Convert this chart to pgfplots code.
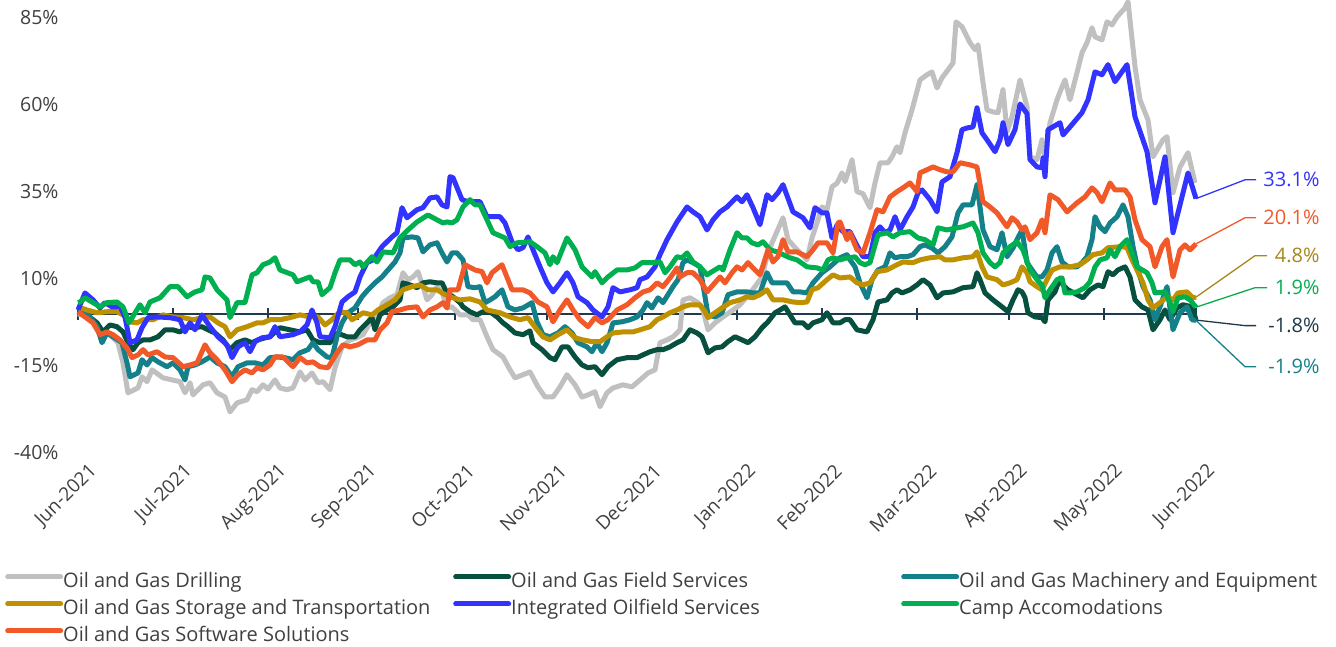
\documentclass[border=0pt]{standalone}
\usepackage{fontspec}
\setmainfont{Open Sans}
\usepackage{pgfplots}
\pgfplotsset{compat=1.18}
\definecolor{cDrill}{HTML}{C0C0C0}
\definecolor{cField}{HTML}{07503F}
\definecolor{cMach}{HTML}{13808A}
\definecolor{cStor}{HTML}{BF9000}
\definecolor{cInt}{HTML}{3333FF}
\definecolor{cCamp}{HTML}{00B050}
\definecolor{cSoft}{HTML}{F15A28}
\definecolor{cAxis}{HTML}{1F3A4D}
\definecolor{cText}{HTML}{404040}
\definecolor{cStorLab}{HTML}{A8861C}
\begin{document}
\begin{tikzpicture}
\useasboundingbox (0pt,0pt) rectangle (1336pt,-646pt);
% zero line with month ticks
\begin{axis}[at={(78pt,-453pt)}, anchor=south west, scale only axis,
  width=1118pt, height=435pt, xmin=0, xmax=1118, ymin=-40, ymax=85,
  axis x line=middle, axis y line=none,
  x axis line style={-, draw=cAxis, line width=1.4pt},
  xtick={0,95,190,280,377,469,564,659,744,839,931,1026,1118},
  xticklabels={}, major tick length=12pt,
  tick style={draw=cAxis, line width=1.2pt}]
\addplot[draw=none] coordinates {(0,0)};
\end{axis}
\begin{axis}[at={(78pt,-453pt)}, anchor=south west, scale only axis,
  width=1118pt, height=435pt, xmin=0, xmax=1118, ymin=-40, ymax=85,
  clip=false, axis line style={draw=none}, tick style={draw=none},
  xtick={0,95,190,280,377,469,564,659,744,839,931,1026,1118},
  xticklabels={Jun-2021,Jul-2021,Aug-2021,Sep-2021,Oct-2021,Nov-2021,Dec-2021,Jan-2022,Feb-2022,Mar-2022,Apr-2022,May-2022,Jun-2022},
  xticklabel style={rotate=45, anchor=east, font=\fontsize{19}{22}\selectfont, text=cText, yshift=-22pt, xshift=4pt},
  ytick={-40,-15,10,35,60,85},
  yticklabels={-40\%,-15\%,10\%,35\%,60\%,85\%},
  yticklabel style={font=\fontsize{19.5}{22}\selectfont, text=cText, xshift=-16pt},
  legend columns=3, legend cell align=left,
  legend style={at={(-0.0653,-0.2770)}, anchor=north west, draw=none, fill=none,
    inner sep=0pt, font=\fontsize{20}{24}\selectfont, text=cText, row sep=8.5pt,
    nodes={inner xsep=0pt, inner ysep=0pt, text height=14pt, text depth=4.5pt}},
  legend image code/.code={\draw[#1, line cap=round] (0pt,6pt) -- (53pt,6pt);},
  every axis plot/.append style={line width=5pt, line join=round}]

\addplot[cDrill] coordinates {(0,0)(12,-0.9)(24,-6.6)(30,-5.5)(40,-8.3)(45,-14.1)(50,-22.7)(60,-21.3)(64,-18.1)(69,-19.5)(74,-16.1)(85,-18.4)(102,-19.5)(107,-22.7)(112,-19.8)(115,-23.3)(125,-20.4)(132,-19.8)(139,-22.7)(147,-23.9)(152,-28.2)(159,-25.6)(169,-24.7)(174,-21.8)(179,-22.4)(185,-20.4)(190,-21.6)(197,-19.0)(202,-21.3)(209,-21.8)(215,-21.3)(222,-16.7)(227,-19.0)(234,-17.0)(240,-19.8)(245,-19.5)(252,-21.8)(257,-15.5)(264,-9.5)(272,-7.5)(279,-6.9)(285,-6.0)(292,-2.6)(299,-0.9)(305,3.2)(312,4.6)(319,5.5)(325,11.8)(330,9.8)(335,10.6)(340,12.1)(345,7.8)(349,4.0)(354,5.5)(359,7.8)(364,6.3)(369,1.7)(374,2.0)(379,0.6)(382,-0.3)(390,-0.3)(395,-1.7)(402,-1.7)(409,-6.6)(415,-10.3)(425,-12.4)(432,-16.1)(437,-18.4)(445,-17.5)(452,-16.7)(460,-21.0)(467,-23.9)(475,-23.9)(482,-21.0)(489,-17.5)(497,-20.4)(504,-23.9)(510,-23.3)(517,-22.4)(522,-26.7)(529,-22.7)(535,-21.3)(545,-20.4)(554,-21.0)(562,-19.0)(570,-17.0)(577,-16.1)(582,-8.3)(589,-7.5)(595,-6.6)(602,-4.6)(605,4.0)(612,4.6)(620,3.2)(625,1.1)(630,-4.6)(637,-2.6)(645,-0.9)(655,1.1)(662,2.6)(669,4.9)(677,7.8)(684,10.6)(689,16.4)(694,20.4)(705,27.6)(710,21.3)(719,18.4)(729,15.5)(734,21.8)(739,26.1)(744,30.7)(749,29.9)(754,36.5)(759,37.5)(764,40.5)(767,38.0)(770,40.5)(774,44.3)(779,35.1)(785,34.5)(792,30.5)(797,37.6)(802,43.4)(810,43.4)(814,45.1)(819,48.0)(822,46.3)(827,52.0)(834,58.6)(842,67.2)(849,68.7)(854,69.5)(859,64.9)(864,67.8)(870,70.1)(875,72.1)(878,83.9)(884,82.5)(892,77.9)(897,75.9)(900,77.3)(905,66.4)(909,58.6)(915,58.0)(920,57.8)(925,64.4)(929,52.3)(934,56.6)(942,67.2)(949,59.5)(952,45.1)(959,44.3)(964,50.0)(967,44.3)(972,54.9)(979,61.5)(984,65.2)(987,67.2)(992,61.5)(999,69.3)(1004,75.0)(1009,77.9)(1014,82.2)(1017,79.6)(1024,78.7)(1029,83.9)(1034,83.0)(1039,85.3)(1047,87.9)(1050,89.7)(1057,71.0)(1062,61.5)(1070,55.7)(1075,45.1)(1085,50.0)(1089,50.9)(1095,34.8)(1102,42.2)(1110,46.3)(1117,37.6)};
\addlegendentry{\makebox[390pt][l]{Oil and Gas Drilling}}

\addplot[cField] coordinates {(0,1.1)(9,-0.3)(19,-2.6)(25,-5.2)(32,-3.2)(39,-3.7)(45,-5.2)(50,-8.3)(55,-10.3)(60,-8.3)(65,-7.5)(72,-7.5)(80,-6.6)(87,-4.6)(95,-4.6)(102,-5.2)(109,-3.7)(115,-4.0)(124,-3.7)(130,-4.6)(137,-5.5)(145,-7.5)(152,-10.3)(159,-8.3)(167,-7.5)(174,-8.3)(180,-7.5)(187,-6.9)(192,-6.6)(197,-5.2)(202,-4.0)(212,-4.6)(222,-5.2)(229,-4.6)(235,-7.5)(242,-8.3)(252,-8.3)(259,-5.5)(269,-6.6)(277,-6.6)(282,-4.6)(289,-2.6)(294,-1.1)(297,-4.6)(302,-0.3)(309,1.1)(315,2.0)(322,4.0)(325,8.9)(332,8.3)(339,7.5)(345,8.9)(352,9.2)(359,8.9)(364,8.9)(369,6.0)(375,4.9)(382,3.2)(385,2.0)(392,0.6)(399,-0.3)(405,0.6)(412,0.6)(419,-0.9)(425,-2.6)(430,-3.7)(437,-5.5)(445,-6.0)(452,-4.9)(455,-8.3)(464,-10.3)(472,-12.6)(477,-13.2)(484,-9.5)(490,-9.5)(497,-12.4)(504,-14.7)(510,-15.5)(517,-15.2)(524,-17.5)(530,-15.2)(539,-13.2)(549,-12.6)(559,-12.6)(565,-11.8)(572,-10.9)(579,-10.3)(585,-10.3)(592,-9.5)(599,-8.3)(605,-7.5)(612,-4.6)(619,-5.5)(624,-6.6)(630,-11.2)(637,-9.8)(644,-9.5)(650,-8.0)(657,-6.6)(664,-7.5)(670,-8.3)(677,-6.6)(684,-4.0)(690,-2.3)(697,0.3)(702,1.1)(707,2.0)(712,-0.3)(717,-2.6)(725,-2.6)(730,-4.0)(735,-2.6)(744,-1.7)(749,0.3)(755,-2.6)(762,-2.6)(767,-1.7)(772,-1.7)(779,-4.6)(789,-5.2)(795,-1.7)(800,3.4)(809,4.0)(814,6.0)(819,6.9)(824,6.0)(832,6.9)(839,8.3)(845,9.8)(852,8.3)(859,4.6)(865,6.0)(875,6.3)(885,7.5)(895,7.8)(899,11.8)(902,9.8)(907,6.0)(915,4.0)(924,2.0)(930,0.6)(935,4.0)(940,6.9)(944,6.3)(947,4.6)(950,0.3)(957,-0.9)(964,-1.1)(967,-2.3)(970,4.0)(977,6.3)(982,10.3)(985,8.3)(990,6.9)(999,5.5)(1005,4.6)(1012,6.9)(1020,8.3)(1025,7.8)(1030,12.1)(1035,11.2)(1040,12.6)(1047,13.5)(1052,10.6)(1057,4.0)(1064,2.0)(1070,1.1)(1075,-4.6)(1082,-1.7)(1087,1.1)(1092,-1.7)(1099,1.7)(1105,2.6)(1114,2.0)(1118,-1.8)};
\addlegendentry{\makebox[390pt][l]{Oil and Gas Field Services}}

\addplot[cMach] coordinates {(0,1.1)(9,0.3)(19,-3.7)(24,-8.3)(29,-5.5)(35,-6.6)(44,-8.3)(49,-14.1)(52,-18.1)(60,-17.0)(64,-13.2)(69,-14.7)(74,-12.6)(80,-13.8)(89,-15.2)(95,-14.1)(102,-16.1)(107,-19.0)(110,-15.2)(117,-14.7)(124,-13.8)(132,-12.4)(139,-14.1)(147,-15.2)(154,-18.1)(160,-15.2)(169,-14.1)(177,-14.1)(185,-14.7)(192,-12.6)(199,-12.4)(207,-12.6)(215,-13.2)(222,-11.2)(230,-10.3)(235,-8.3)(240,-10.3)(249,-12.4)(254,-12.6)(259,-6.6)(264,-2.6)(270,0.3)(277,1.7)(284,4.9)(290,6.9)(297,8.9)(304,10.6)(310,12.6)(317,14.9)(322,17.5)(325,21.8)(334,22.1)(340,21.8)(345,17.8)(352,19.8)(359,20.4)(364,17.5)(369,14.9)(374,17.5)(379,17.5)(385,15.5)(390,7.8)(397,7.5)(402,7.8)(407,3.2)(412,4.0)(417,4.9)(424,6.9)(430,2.0)(437,1.1)(445,1.7)(454,3.2)(459,-2.3)(465,-6.0)(472,-6.6)(480,-5.5)(487,-3.7)(494,-5.5)(500,-8.3)(509,-9.5)(514,-10.9)(519,-8.3)(524,-10.9)(529,-8.3)(535,-2.6)(544,-2.3)(552,-1.7)(559,-0.9)(565,1.1)(569,3.2)(574,1.7)(580,4.6)(585,3.2)(590,5.5)(595,7.8)(600,9.8)(605,14.7)(609,15.5)(615,14.7)(622,13.5)(627,4.9)(630,-0.3)(637,-0.9)(644,0.3)(650,5.5)(659,6.3)(669,6.3)(675,6.0)(682,6.0)(689,11.8)(694,8.9)(702,8.9)(709,8.9)(715,6.3)(722,6.3)(729,6.0)(735,8.9)(744,11.8)(752,13.5)(762,16.1)(769,17.0)(772,15.5)(777,13.5)(782,8.9)(789,4.6)(794,9.8)(800,12.6)(807,13.5)(812,17.5)(817,16.1)(822,16.4)(829,16.4)(835,17.0)(842,19.3)(847,19.8)(854,18.9)(860,17.5)(867,19.3)(874,22.1)(880,29.0)(885,31.3)(894,31.3)(899,37.1)(902,30.7)(905,24.1)(912,19.3)(919,18.4)(924,23.3)(929,16.4)(935,18.9)(939,21.3)(944,24.1)(949,14.7)(954,12.6)(959,10.6)(964,10.6)(969,12.6)(974,17.5)(979,19.3)(984,14.9)(990,13.5)(999,13.5)(1004,14.7)(1009,16.4)(1014,21.3)(1017,27.9)(1022,25.0)(1027,23.6)(1032,26.1)(1039,27.9)(1045,31.3)(1050,27.9)(1055,19.3)(1060,12.6)(1065,7.8)(1072,4.0)(1077,-1.7)(1082,2.0)(1089,7.8)(1095,-4.6)(1102,0.3)(1109,2.0)(1114,-1.7)(1118,-1.9)};
\addlegendentry{Oil and Gas Machinery and Equipment}

\addplot[cStor] coordinates {(0,2.0)(9,1.1)(19,0.3)(29,0.6)(39,0.6)(45,-0.3)(52,-2.3)(59,-2.6)(65,-1.7)(75,-1.7)(85,-0.3)(95,-0.9)(105,-1.1)(115,-1.7)(125,-1.1)(132,-0.9)(140,-2.6)(147,-3.7)(152,-6.6)(159,-4.6)(169,-3.7)(179,-2.6)(185,-2.6)(192,-1.7)(202,-1.7)(212,-1.1)(222,-0.3)(232,-0.9)(240,-0.9)(247,-3.2)(254,-1.7)(262,0.6)(269,0.3)(274,-1.7)(279,-0.9)(285,0.3)(294,-0.3)(300,1.1)(309,2.6)(317,4.0)(325,6.9)(334,7.8)(342,8.3)(350,6.9)(359,6.9)(367,5.5)(375,4.6)(382,4.0)(392,4.3)(402,3.4)(409,1.1)(422,0.3)(432,-0.9)(442,-1.7)(450,-1.1)(459,-4.6)(465,-6.6)(472,-7.5)(480,-6.0)(489,-4.6)(497,-6.9)(505,-7.5)(514,-8.0)(522,-8.0)(529,-6.6)(535,-5.5)(545,-5.2)(555,-5.2)(562,-4.6)(572,-3.7)(579,-1.7)(585,-0.9)(592,0.3)(599,1.1)(605,2.0)(612,2.6)(622,2.6)(627,0.6)(630,-1.1)(637,0.3)(644,1.7)(652,3.2)(662,4.0)(669,4.9)(675,4.6)(682,5.5)(689,6.9)(695,4.0)(705,4.0)(715,3.4)(722,3.2)(729,3.4)(734,6.9)(740,7.5)(749,9.8)(755,11.2)(762,10.3)(772,10.6)(779,8.9)(785,8.3)(792,8.9)(799,12.1)(809,12.6)(819,14.1)(825,14.9)(835,14.7)(842,15.5)(852,16.1)(862,16.4)(867,15.5)(875,15.5)(885,16.1)(895,16.4)(899,17.8)(904,13.5)(909,10.6)(919,9.8)(925,8.3)(932,8.9)(939,9.8)(944,13.5)(949,11.8)(952,9.2)(959,7.8)(964,6.9)(969,9.8)(974,12.6)(982,13.5)(992,13.5)(1002,14.1)(1009,15.5)(1015,17.0)(1024,17.5)(1030,19.0)(1044,19.3)(1049,19.0)(1054,15.5)(1059,12.6)(1065,8.9)(1070,4.0)(1075,1.7)(1082,3.2)(1089,4.9)(1095,4.0)(1100,6.0)(1109,6.3)(1115,4.6)(1118,4.8)};
\addlegendentry{\makebox[390pt][l]{Oil and Gas Storage and Transportation}}

\addplot[cInt] coordinates {(0,1.1)(7,6.0)(15,4.0)(22,1.7)(27,3.2)(34,2.0)(42,2.0)(47,-0.9)(52,-8.3)(59,-7.5)(64,-4.0)(70,-1.1)(79,-0.9)(92,-1.1)(102,-1.7)(107,-5.2)(112,-2.6)(117,-4.6)(124,-0.3)(132,-3.7)(140,-6.6)(149,-8.9)(154,-12.6)(160,-9.5)(167,-8.3)(172,-10.9)(177,-8.0)(184,-6.9)(192,-6.6)(197,-3.7)(202,-6.6)(215,-6.0)(222,-5.2)(229,-3.2)(234,1.1)(239,-2.6)(242,-6.6)(252,-6.9)(257,-3.7)(264,3.4)(270,4.9)(277,6.3)(282,10.6)(289,14.7)(295,15.5)(304,19.3)(314,22.1)(319,23.3)(324,30.5)(329,27.6)(339,29.9)(345,30.5)(352,33.3)(359,33.6)(364,31.3)(369,30.7)(372,39.4)(375,39.1)(384,32.8)(390,32.2)(402,32.2)(409,27.9)(422,27.9)(427,26.1)(434,20.7)(440,18.4)(445,19.0)(450,22.1)(455,18.4)(462,13.5)(469,8.9)(475,6.3)(482,8.9)(489,11.8)(495,8.9)(500,4.9)(509,3.2)(515,1.1)(524,-0.9)(530,2.0)(535,7.5)(542,6.3)(552,6.9)(559,7.5)(562,9.8)(569,10.6)(577,13.5)(582,17.0)(589,21.3)(599,26.4)(609,30.7)(615,29.3)(622,27.9)(629,24.1)(635,27.0)(642,29.3)(649,30.7)(659,33.6)(664,32.2)(669,34.2)(675,30.5)(682,25.6)(689,34.2)(694,32.8)(700,34.8)(705,37.1)(715,29.3)(725,27.6)(732,24.7)(737,30.5)(744,29.0)(749,29.0)(754,21.8)(759,25.5)(765,23.6)(772,23.6)(777,20.7)(785,16.4)(792,16.4)(797,23.3)(802,25.0)(807,23.3)(812,24.1)(817,27.9)(822,24.1)(829,27.9)(835,30.7)(840,34.8)(844,35.6)(852,32.8)(859,29.3)(864,37.9)(872,39.4)(879,46.3)(884,52.9)(889,53.4)(895,53.7)(899,59.2)(904,52.0)(909,50.0)(917,46.6)(922,50.0)(925,54.9)(930,48.6)(937,52.9)(942,60.3)(949,57.5)(952,44.3)(959,42.2)(964,42.0)(965,44.8)(967,39.4)(970,52.9)(982,54.9)(985,51.4)(992,53.7)(1004,57.8)(1010,61.5)(1017,69.5)(1024,68.7)(1030,71.6)(1037,66.7)(1049,71.6)(1057,56.6)(1069,46.6)(1077,31.9)(1087,45.1)(1095,23.3)(1104,33.6)(1110,40.5)(1118,33.1)};
\addlegendentry{\makebox[390pt][l]{Integrated Oilfield Services}}

\addplot[cCamp] coordinates {(0,3.2)(2,3.4)(7,4.6)(22,2.0)(29,3.2)(39,3.4)(45,2.0)(51,-2.6)(62,2.6)(67,0.3)(72,3.4)(82,4.6)(92,7.8)(100,7.8)(109,4.9)(117,6.3)(124,6.9)(127,10.6)(132,10.3)(139,6.9)(149,4.0)(152,-1.1)(159,3.2)(167,3.2)(174,11.2)(179,11.8)(185,14.1)(192,14.9)(197,16.1)(202,12.6)(215,11.2)(219,9.2)(232,10.6)(235,9.2)(240,9.2)(244,5.5)(252,7.5)(257,11.8)(262,15.5)(272,15.5)(277,14.1)(282,14.9)(285,13.5)(294,16.4)(299,14.9)(305,17.8)(315,17.5)(322,21.8)(330,24.1)(339,26.4)(350,28.4)(359,27.0)(365,26.1)(369,26.4)(374,26.1)(379,27.0)(385,30.7)(392,32.8)(397,31.3)(402,31.3)(409,27.0)(415,23.3)(427,21.8)(432,19.3)(439,20.4)(452,20.7)(459,19.3)(467,17.5)(472,14.1)(475,16.4)(479,14.7)(489,21.8)(497,18.4)(504,13.5)(514,10.6)(517,12.1)(524,8.9)(530,10.6)(539,12.6)(549,12.6)(557,13.2)(564,14.7)(572,14.7)(582,14.9)(587,11.8)(592,13.5)(599,16.4)(604,16.1)(609,17.5)(615,14.9)(622,13.5)(629,11.2)(634,12.1)(642,13.5)(645,12.6)(652,18.4)(659,23.3)(664,21.8)(669,21.8)(674,20.4)(680,19.8)(685,20.7)(692,18.4)(699,17.8)(705,17.0)(712,16.1)(719,15.5)(729,13.5)(739,13.2)(745,12.6)(750,15.5)(755,16.1)(762,15.5)(769,16.1)(772,16.1)(777,16.4)(782,14.7)(787,14.1)(792,14.7)(800,22.7)(809,23.3)(815,22.1)(822,23.3)(832,23.6)(840,21.8)(847,21.3)(855,19.8)(860,24.7)(869,24.1)(879,24.7)(885,25.0)(895,26.1)(900,23.3)(905,17.5)(912,14.7)(917,13.5)(922,14.7)(925,17.5)(932,19.3)(939,20.7)(945,18.4)(952,12.6)(959,9.8)(964,8.3)(967,4.6)(972,6.9)(979,9.8)(984,10.3)(987,6.0)(992,6.0)(999,6.3)(1007,7.5)(1012,9.2)(1017,13.5)(1022,15.5)(1029,16.1)(1032,18.4)(1037,16.4)(1042,19.3)(1049,21.3)(1054,17.5)(1059,13.5)(1069,11.8)(1074,8.9)(1077,6.0)(1087,6.3)(1092,3.2)(1095,0.6)(1100,4.6)(1107,4.9)(1112,4.0)(1118,1.9)};
\addlegendentry{Camp Accomodations}

\addplot[cSoft] coordinates {(0,0.6)(7,-0.9)(15,-2.6)(22,-6.0)(29,-5.2)(35,-6.0)(42,-7.5)(49,-9.8)(54,-12.6)(60,-11.8)(65,-10.3)(70,-11.8)(79,-10.9)(87,-12.4)(95,-12.6)(105,-15.2)(112,-14.7)(119,-14.1)(127,-8.9)(132,-11.2)(139,-13.2)(147,-16.1)(154,-19.5)(160,-17.5)(167,-16.1)(174,-17.0)(179,-15.5)(185,-16.1)(192,-14.7)(197,-12.4)(205,-12.4)(215,-15.2)(222,-12.6)(229,-14.1)(235,-13.8)(242,-15.2)(250,-15.5)(259,-11.2)(265,-8.9)(272,-9.5)(280,-8.9)(289,-7.5)(297,-7.5)(302,-4.6)(309,-2.6)(314,0.6)(322,1.1)(329,1.7)(339,2.0)(345,-0.9)(352,1.1)(359,2.0)(365,3.2)(369,1.7)(372,6.9)(380,6.9)(387,14.1)(397,12.6)(404,12.1)(409,8.9)(414,11.8)(424,14.1)(434,6.9)(445,6.9)(452,6.0)(460,3.4)(469,2.0)(475,-2.3)(482,1.1)(489,4.0)(495,1.1)(502,-1.7)(510,-3.7)(517,-1.1)(524,-2.6)(530,-1.7)(539,1.1)(549,2.6)(557,4.6)(565,6.3)(572,6.9)(579,8.9)(585,7.8)(592,10.3)(599,13.2)(602,10.6)(609,11.8)(615,11.8)(622,9.8)(629,6.3)(635,8.3)(642,10.6)(647,8.9)(654,11.8)(659,13.5)(664,12.6)(670,14.7)(675,13.2)(682,11.2)(690,18.4)(695,14.9)(700,16.4)(705,21.3)(710,17.8)(719,17.8)(729,16.4)(735,18.4)(740,20.4)(749,20.4)(755,17.5)(760,26.1)(762,26.4)(769,21.3)(772,23.3)(779,18.4)(785,17.5)(792,23.3)(799,29.9)(805,29.3)(812,33.6)(819,35.1)(825,36.2)(832,37.6)(839,35.1)(842,40.5)(849,41.4)(855,42.2)(862,41.4)(869,40.8)(875,40.8)(882,43.4)(892,42.8)(899,42.2)(905,32.2)(912,30.7)(919,29.0)(924,27.0)(929,25.0)(934,27.6)(939,26.4)(944,24.1)(947,25.0)(952,21.3)(959,23.3)(964,27.0)(967,23.3)(972,34.2)(980,32.8)(989,29.3)(999,31.9)(1007,33.6)(1014,36.2)(1019,34.8)(1024,32.2)(1032,37.6)(1037,35.6)(1047,35.6)(1052,33.6)(1057,27.0)(1064,21.3)(1072,19.3)(1077,13.5)(1084,19.3)(1089,21.3)(1095,10.6)(1102,18.4)(1107,19.8)(1112,18.4)(1118,20.1)};
\addlegendentry{Oil and Gas Software Solutions}

% end labels with leader lines
\draw[cInt, line width=1.3pt] (axis cs:1118,33.1) -- (axis cs:1167,38.5) -- (axis cs:1178,38.5);
\node[anchor=east, text=cInt, font=\fontsize{20}{24}\selectfont] at (axis cs:1245,38.5) {33.1\%};
\draw[cSoft, line width=1.3pt] (axis cs:1118,20.1) -- (axis cs:1167,27.6) -- (axis cs:1178,27.6);
\node[anchor=east, text=cSoft, font=\fontsize{20}{24}\selectfont] at (axis cs:1245,27.6) {20.1\%};
\draw[cStorLab, line width=1.3pt] (axis cs:1118,4.8) -- (axis cs:1177,16.7) -- (axis cs:1189,16.7);
\node[anchor=east, text=cStorLab, font=\fontsize{20}{24}\selectfont] at (axis cs:1245,16.7) {4.8\%};
\draw[cCamp, line width=1.3pt] (axis cs:1118,1.9) -- (axis cs:1177,7.5) -- (axis cs:1189,7.5);
\node[anchor=east, text=cCamp, font=\fontsize{20}{24}\selectfont] at (axis cs:1245,7.5) {1.9\%};
\draw[cAxis, line width=1.3pt] (axis cs:1118,-1.8) -- (axis cs:1167,-3.4) -- (axis cs:1178,-3.4);
\node[anchor=east, text=cAxis, font=\fontsize{20}{24}\selectfont] at (axis cs:1245,-3.4) {-1.8\%};
\draw[cMach, line width=1.3pt] (axis cs:1118,-1.9) -- (axis cs:1167,-15.2) -- (axis cs:1178,-15.2);
\node[anchor=east, text=cMach, font=\fontsize{20}{24}\selectfont] at (axis cs:1245,-15.2) {-1.9\%};
\end{axis}
\end{tikzpicture}
\end{document}
